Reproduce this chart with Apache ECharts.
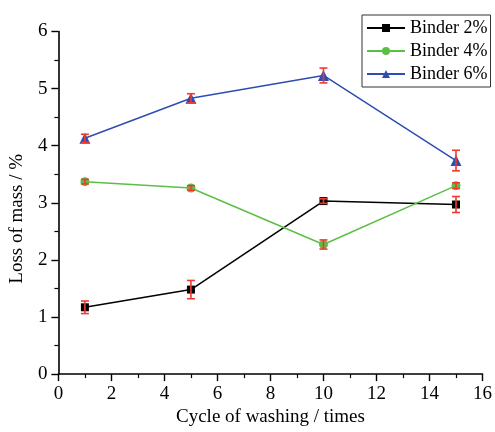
<!DOCTYPE html>
<html>
<head>
<meta charset="utf-8">
<script src="https://cdn.jsdelivr.net/npm/echarts@6/dist/echarts.min.js"></script>
<style>html,body{margin:0;padding:0;background:#fff;}#c{width:495px;height:432px;}</style>
</head>
<body>
<div id="c"></div>
<script>
var cycles = [1, 5, 10, 15];
var seriesNames = ['Binder 2%', 'Binder 4%', 'Binder 6%'];
var binder2 = [1.17, 1.48, 3.03, 2.97];
var binder2Err = [0.11, 0.16, 0.04, 0.14];
var binder4 = [3.37, 3.26, 2.27, 3.30];
var binder4Err = [0.04, 0.04, 0.08, 0.05];
var binder6 = [4.13, 4.83, 5.23, 3.74];
var binder6Err = [0.07, 0.08, 0.13, 0.18];
var xTicks = [0, 2, 4, 6, 8, 10, 12, 14, 16];
var yTicks = [0, 1, 2, 3, 4, 5, 6];

var FONT = '"Liberation Serif", "DejaVu Serif", serif';
function pts(v) { return cycles.map(function (x, i) { return [x, v[i]]; }); }
function errPts(v, e) { return cycles.map(function (x, i) { return [x, v[i], e[i]]; }); }
function errSeries(v, e) {
  return {
    type: 'custom', z: 10, silent: true,
    data: errPts(v, e),
    renderItem: function (params, api) {
      var x = api.value(0), y = api.value(1), d = api.value(2);
      var top = api.coord([x, y + d]), bot = api.coord([x, y - d]);
      var w = 4;
      var st = { stroke: '#f03a2e', lineWidth: 1.6 };
      return { type: 'group', children: [
        { type: 'line', shape: { x1: top[0], y1: top[1], x2: bot[0], y2: bot[1] }, style: st },
        { type: 'line', shape: { x1: top[0] - w, y1: top[1], x2: top[0] + w, y2: top[1] }, style: st },
        { type: 'line', shape: { x1: bot[0] - w, y1: bot[1], x2: bot[0] + w, y2: bot[1] }, style: st }
      ]};
    }
  };
}
var axisCommon = {
  axisLine: { show: true, lineStyle: { color: '#000', width: 1.6 } },
  axisTick: { show: true, inside: false, length: 7, lineStyle: { color: '#000', width: 1.4 } },
  minorTick: { show: true, splitNumber: 2, length: 4, lineStyle: { color: '#000', width: 1.2 } },
  splitLine: { show: false },
  axisLabel: { color: '#000', fontFamily: FONT, fontSize: 19 }
};
var chart = echarts.init(document.getElementById('c'));
chart.setOption({
  animation: false,
  backgroundColor: '#fff',
  grid: { left: 55, right: 12, top: 31.5, bottom: 52, containLabel: false },
  xAxis: Object.assign({}, axisCommon, {
    type: 'value', min: xTicks[0], max: xTicks[xTicks.length - 1], interval: 2,
    name: 'Cycle of washing / times', nameLocation: 'middle', nameGap: 31,
    nameTextStyle: { color: '#000', fontFamily: FONT, fontSize: 19 },
    axisLabel: Object.assign({}, axisCommon.axisLabel, { margin: 10 })
  }),
  yAxis: Object.assign({}, axisCommon, {
    type: 'value', min: yTicks[0], max: yTicks[yTicks.length - 1], interval: 1,
    name: 'Loss of mass / %', nameLocation: 'middle', nameGap: 24,
    nameTextStyle: { color: '#000', fontFamily: FONT, fontSize: 19, padding: [0, 32, 0, 0] },
    axisLabel: Object.assign({}, axisCommon.axisLabel, { margin: 11 })
  }),
  legend: {
    left: 362, top: 15, orient: 'vertical',
    data: seriesNames,
    itemWidth: 38, itemHeight: 10, itemGap: 5,
    padding: [4, 3, 4, 4],
    borderColor: '#333', borderWidth: 1, borderRadius: 0,
    textStyle: { color: '#000', fontFamily: FONT, fontSize: 18 }
  },
  series: [
    { name: seriesNames[0], type: 'line', data: pts(binder2), symbol: 'rect', symbolSize: 8,
      itemStyle: { color: '#000' }, lineStyle: { color: '#000', width: 1.5 } },
    { name: seriesNames[1], type: 'line', data: pts(binder4), symbol: 'circle', symbolSize: 9,
      itemStyle: { color: '#5cbf45' }, lineStyle: { color: '#5cbf45', width: 1.5 } },
    { name: seriesNames[2], type: 'line', data: pts(binder6), symbol: 'triangle', symbolSize: 11,
      itemStyle: { color: '#2f4db0' }, lineStyle: { color: '#2f4db0', width: 1.5 } },
    errSeries(binder2, binder2Err),
    errSeries(binder4, binder4Err),
    errSeries(binder6, binder6Err)
  ]
});
</script>
</body>
</html>
